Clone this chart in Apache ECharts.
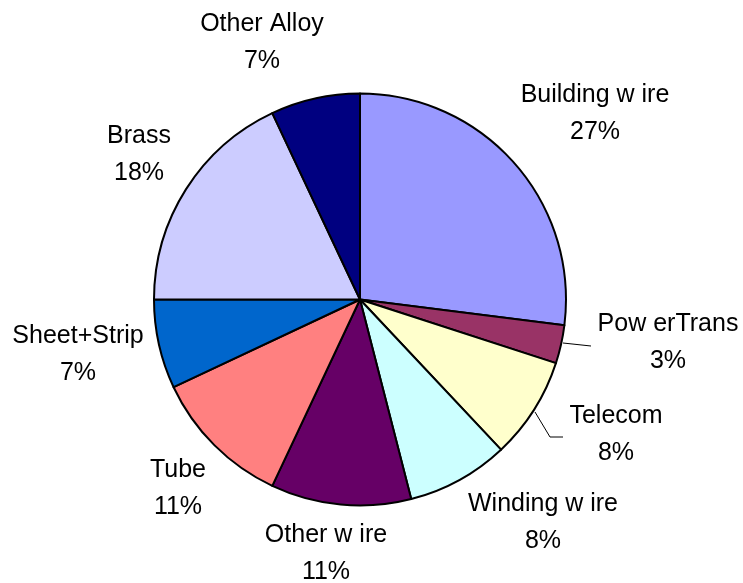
<!DOCTYPE html>
<html>
<head>
<meta charset="utf-8">
<script src="https://cdn.jsdelivr.net/npm/echarts@6/dist/echarts.min.js"></script>
<style>
  html, body { margin: 0; padding: 0; background: #ffffff; }
  #chart { width: 743px; height: 583px; }
</style>
</head>
<body>
<div id="chart"></div>
<script>
// Copper end-use shares, clockwise from 12 o'clock
const categories = ['Building w ire', 'Pow erTrans', 'Telecom', 'Winding w ire', 'Other w ire',
                    'Tube', 'Sheet+Strip', 'Brass', 'Other Alloy'];
const shares = [27, 3, 8, 8, 11, 11, 7, 18, 7];
const sliceColors = ['#9999FF', '#993366', '#FFFFCC', '#CCFFFF', '#660066',
                     '#FF8080', '#0066CC', '#CCCCFF', '#000080'];

// Label block centres (px) and the two labels that carry leader lines
const labelSpots = [[595, 114], [668, 343], [616, 435], [543, 523], [326, 554],
                    [178, 489], [78, 355], [139, 155], [262, 43]];
const leaderLines = {
  1: [[563, 343], [591, 346]],
  2: [[535, 412], [550, 437], [563, 437]]
};

const chart = echarts.init(document.getElementById('chart'), null, { renderer: 'canvas' });

chart.setOption({
  animation: false,
  backgroundColor: '#ffffff',
  series: [{
    type: 'pie',
    center: [360, 299.5],
    radius: 206,
    startAngle: 90,
    clockwise: true,
    avoidLabelOverlap: false,
    emphasis: { disabled: true },
    itemStyle: { borderColor: '#000000', borderWidth: 2 },
    label: {
      show: true,
      position: 'outside',
      formatter: p => p.name + '\n' + p.value + '%',
      fontFamily: '"Liberation Sans", Arial, sans-serif',
      fontSize: 25,
      lineHeight: 37,
      color: '#000000'
    },
    labelLine: { show: false, lineStyle: { color: '#000000', width: 1 } },
    labelLayout: function (params) {
      const i = params.dataIndex;
      const out = {
        x: labelSpots[i][0],
        y: labelSpots[i][1],
        align: 'center',
        verticalAlign: 'middle'
      };
      if (leaderLines[i]) out.labelLinePoints = leaderLines[i];
      return out;
    },
    data: categories.map((name, i) => ({
      name: name,
      value: shares[i],
      itemStyle: { color: sliceColors[i] },
      labelLine: { show: !!leaderLines[i] }
    }))
  }]
});
</script>
</body>
</html>
